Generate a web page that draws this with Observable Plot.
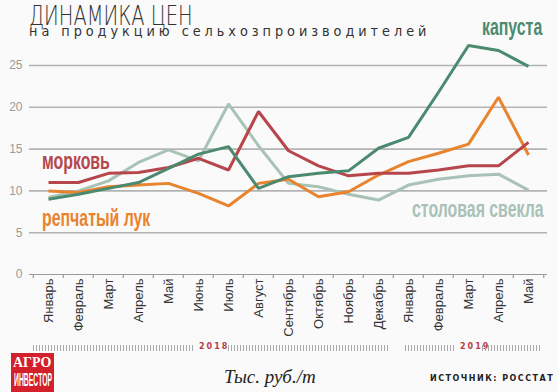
<!DOCTYPE html>
<html><head><meta charset="utf-8">
<script src="https://cdn.jsdelivr.net/npm/d3@7"></script>
<script src="https://cdn.jsdelivr.net/npm/@observablehq/plot@0.6"></script>
<style>
body{margin:0;background:#fafafa;}
#wrap{position:relative;width:558px;height:392px;overflow:hidden;background:#fafafa;font-family:"Liberation Sans",sans-serif;}
#chart{position:absolute;left:0;top:0;}
.abs{position:absolute;white-space:nowrap;transform-origin:0 0;}
#title{left:29px;top:0px;font-family:"DejaVu Sans",sans-serif;font-size:27px;font-weight:200;color:#333;line-height:31px;transform:scaleX(0.72);}
#subtitle{left:29px;top:23px;font-family:"DejaVu Sans",sans-serif;font-size:14px;line-height:16px;letter-spacing:4.3px;color:#333;transform:scaleX(0.92);}
.lab{font-weight:bold;font-size:23px;line-height:23px;transform:scaleX(0.69);}
.yr{position:absolute;top:345px;height:6px;background:repeating-linear-gradient(90deg,#aaa 0 1px,transparent 1px 3px);}
.yrt{position:absolute;top:342px;font-family:"DejaVu Sans",sans-serif;font-weight:bold;font-size:8px;letter-spacing:2px;color:#b83a48;}
#logo{left:11px;top:353px;width:43px;height:39px;background:#d3202b;color:#fff;overflow:hidden;}
#unit{left:224px;top:366px;font-family:"Liberation Serif",serif;font-style:italic;font-size:19px;color:#222;}
#src{left:430px;top:374px;font-family:"DejaVu Sans",sans-serif;font-weight:bold;font-size:8px;letter-spacing:1.5px;color:#222;}
</style></head><body>
<div id="wrap">
<div id="chart"></div>
<div class="abs" id="title">ДИНАМИКА ЦЕН</div>
<div class="abs" id="subtitle">на продукцию сельхозпроизводителей</div>
<div class="abs lab" style="left:482px;top:16px;color:#4b8a6f;">капуста</div>
<div class="abs lab" style="left:42px;top:150px;color:#b6464b;">морковь</div>
<div class="abs lab" style="left:42px;top:207px;color:#e8832e;">репчатый лук</div>
<div class="abs lab" style="left:412px;top:198px;color:#a9c1b6;">столовая свекла</div>
<div class="yr" style="left:33px;width:160px;"></div>
<div class="yrt" style="left:199px;">2018</div>
<div class="yr" style="left:228px;width:161px;"></div>
<div class="yr" style="left:405px;width:49px;"></div>
<div class="yrt" style="left:460px;">2019</div>
<div class="yr" style="left:482px;width:60px;"></div>
<div class="abs" id="logo">
  <div style="position:absolute;left:2px;top:2px;font-family:'Liberation Serif',serif;font-weight:bold;font-size:15px;line-height:15px;transform:scaleX(0.93);transform-origin:0 0;">АГРО</div>
  <div style="position:absolute;left:3px;top:18px;font-size:18px;line-height:18px;font-weight:bold;transform:scaleX(0.38);transform-origin:0 0;white-space:nowrap;">ИНВЕСТОР</div>
</div>
<div class="abs" id="unit">Тыс. руб./т</div>
<div class="abs" id="src">ИСТОЧНИК: РОССТАТ</div>
</div>
<script>
const months = ["Январь","Февраль","Март","Апрель","Май","Июнь","Июль","Август","Сентябрь","Октябрь","Ноябрь","Декабрь","Январь","Февраль","Март","Апрель","Май"];
const years = ["2018","2018","2018","2018","2018","2018","2018","2018","2018","2018","2018","2018","2019","2019","2019","2019","2019"];
const cabbage = [9.0, 9.6, 10.3, 11.0, 12.7, 14.4, 15.3, 10.3, 11.7, 12.1, 12.4, 15.1, 16.4, 21.8, 27.4, 26.8, 24.9];
const carrot  = [11.0, 11.0, 12.1, 12.2, 12.8, 13.9, 12.5, 19.5, 14.8, 13.0, 11.8, 12.1, 12.1, 12.5, 13.0, 13.0, 15.8];
const onion   = [10.0, 9.8, 10.5, 10.7, 10.9, 9.7, 8.2, 10.9, 11.4, 9.3, 9.9, 11.9, 13.5, 14.5, 15.6, 21.2, 14.3];
const beet    = [9.2, 10.0, 11.2, 13.4, 14.9, 13.6, 20.4, 15.4, 10.9, 10.5, 9.6, 8.9, 10.7, 11.4, 11.8, 12.0, 10.1];
const yTicks = [0, 5, 10, 15, 20, 25];
const seriesNames = ["столовая свекла","репчатый лук","морковь","капуста"];
const seriesValues = [beet, onion, carrot, cabbage];
const seriesColors = ["#a9c2b6","#e8832e","#b6464b","#4b8a6f"];

const keys = months.map((m, i) => i);
const rows = [];
seriesNames.forEach((s, k) => seriesValues[k].forEach((v, i) => rows.push({series: s, i, v, year: years[i]})));

const W = 558, ML = 29, MR = 11;
const bw = (W - ML - MR) / keys.length;

const plot = Plot.plot({
  width: W, height: 339,
  marginTop: 65, marginBottom: 65, marginLeft: ML, marginRight: MR,
  style: {background: "transparent", fontFamily: "'Liberation Sans',sans-serif", overflow: "visible"},
  x: {type: "band", domain: keys, padding: 0, axis: null, label: null},
  y: {domain: [0, 25], axis: null, label: null},
  color: {domain: seriesNames, range: seriesColors},
  marks: [
    Plot.ruleY(yTicks.filter(t => t > 0), {stroke: "#b3b3b3", strokeWidth: 1.6}),
    Plot.ruleY([0], {stroke: "#9a9a9a", strokeWidth: 1.2}),
    Plot.axisY({ticks: yTicks, label: null, tickSize: 0, tickPadding: 7, fontSize: 12, fill: "#9a9a9a", color: "#9a9a9a"}),
    Plot.axisX({ticks: keys, label: null, tickSize: 0, tickPadding: 4, tickRotate: -90, tickFormat: i => months[i], fontSize: 13, fill: "#333"}),
    Plot.axisX({ticks: keys, label: null, tickSize: 4, tickFormat: () => "", dx: -bw / 2, stroke: "#9a9a9a", strokeWidth: 1.2}),
    Plot.axisX({ticks: [keys[keys.length - 1]], label: null, tickSize: 4, tickFormat: () => "", dx: bw / 2, stroke: "#9a9a9a", strokeWidth: 1.2}),
    Plot.lineY(rows, {x: "i", y: "v", z: "series", stroke: "series", strokeWidth: 3, strokeLinejoin: "miter", strokeLinecap: "butt"})
  ]
});
document.getElementById("chart").appendChild(plot);
</script>
</body></html>
